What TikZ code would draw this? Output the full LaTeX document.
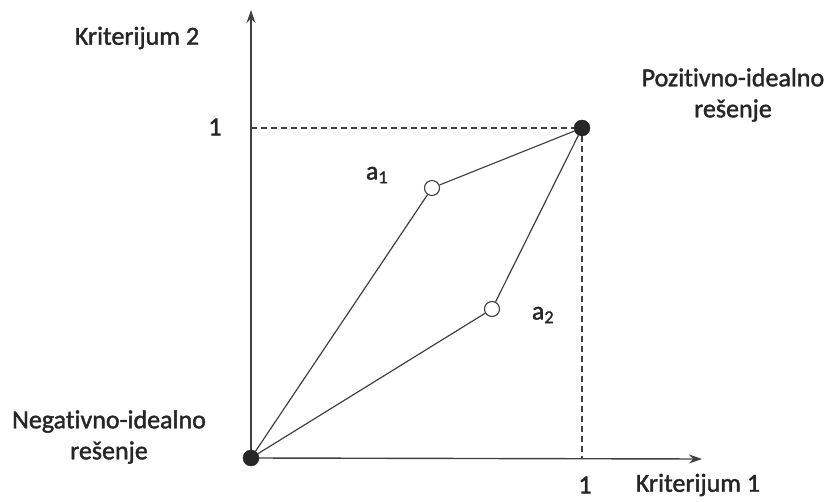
\documentclass[tikz,border=0pt]{standalone}
\usepackage{fontspec}
\setmainfont[Ligatures=NoCommon, FakeBold=1.5]{Carlito}
\usetikzlibrary{arrows.meta}

\tikzset{
  osa/.style={draw=black!75, line width=1.4pt},
  veza/.style={draw=black!75, line width=1.2pt},
  pomocna/.style={draw=black!75, line width=1.2pt, dash pattern=on 6pt off 4pt},
  ideal/.style={circle, fill=black!85, draw=black!85, inner sep=0pt, minimum size=16pt},
  alt/.style={circle, fill=white, draw=black!75, line width=1.1pt, inner sep=0pt, minimum size=15pt},
  natpis/.style={text=black!85, font=\fontsize{26}{31}\selectfont, align=center, inner sep=0pt}
}

\begin{document}
\begin{tikzpicture}[x=1pt, y=1pt, >={Stealth[length=13pt,width=9pt]}]
  \useasboundingbox (0,0) rectangle (830,501);

  % 1. koordinate
  \coordinate (o) at (251,43);
  \coordinate (ykraj) at (251,491);
  \coordinate (xkraj) at (702,42);

  % 2. ose
  \draw[osa, ->] (o) -- (ykraj);
  \draw[osa, ->] (o) -- (xkraj);

  % 3. tacke
  \node[ideal] (neg) at (o) {};
  \node[ideal] (poz) at (582,373) {};
  \node[alt] (a1) at (432,313) {};
  \node[alt] (a2) at (492,192) {};

  % 4. pomocne isprekidane linije
  \draw[pomocna] (o |- poz) -- (poz.west);
  \draw[pomocna] (poz.south) -- (poz |- o);

  % 5. veze izmedju tacaka
  \draw[veza] (neg) -- (a1) -- (poz);
  \draw[veza] (neg) -- (a2) -- (poz);

  % 6. natpisi
  \node[natpis] (k2) at (137,463) {Kriterijum 2};
  \node[natpis] (k1) at (698,16) {Kriterijum 1};
  \node[natpis] (jedany) at (215,374) {1};
  \node[natpis] (jedanx) at (585,16) {1};
  \node[natpis] (pozt) at (733,406) {Pozitivno-idealno\\rešenje};
  \node[natpis] (negt) at (109,64) {Negativno-idealno\\rešenje};
  \node[natpis] (a1t) at (377,326) {a\textsubscript{1}};
  \node[natpis] (a2t) at (543,186) {a\textsubscript{2}};
\end{tikzpicture}
\end{document}
